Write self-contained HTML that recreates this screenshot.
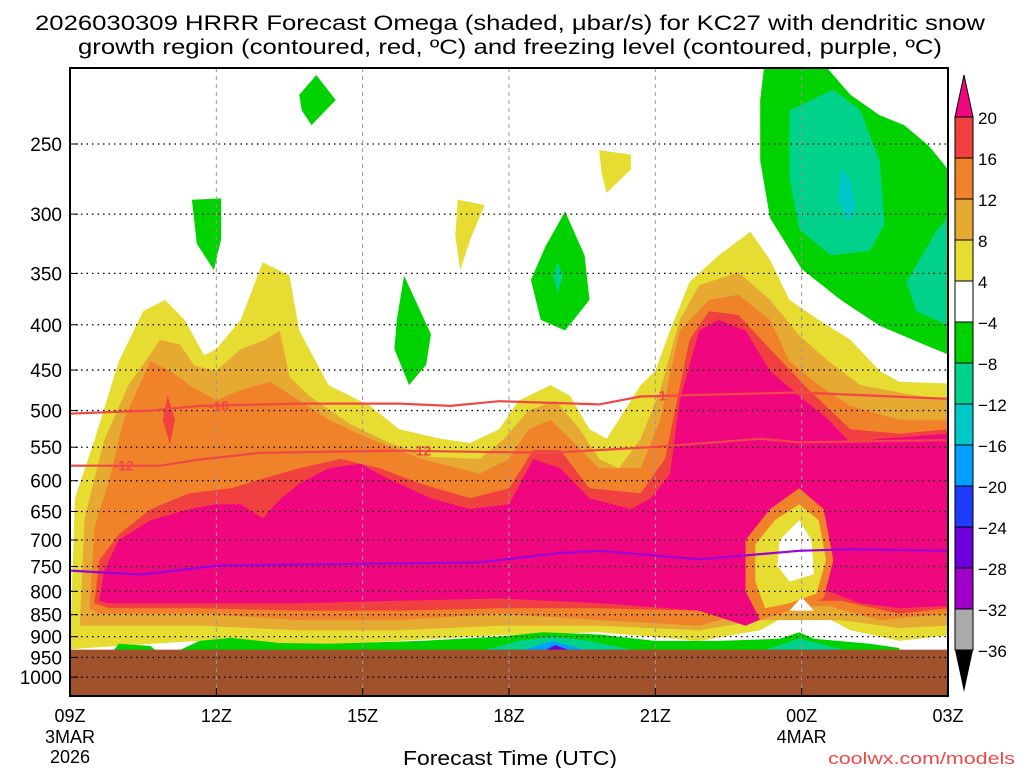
<!DOCTYPE html>
<html><head><meta charset="utf-8"><style>
body{margin:0;background:#fff;}
svg text{font-family:"Liberation Sans",sans-serif;}
</style></head><body>
<svg id="chart" width="1024" height="768" viewBox="0 0 1024 768" xmlns="http://www.w3.org/2000/svg">
<text x="35" y="30" font-size="21" textLength="950" lengthAdjust="spacingAndGlyphs">2026030309 HRRR Forecast Omega (shaded, μbar/s) for KC27 with dendritic snow</text>
<text x="78" y="54" font-size="21" textLength="864" lengthAdjust="spacingAndGlyphs">growth region (contoured, red, ºC) and freezing level (contoured, purple, ºC)</text>
<defs><clipPath id="plotclip"><rect x="70" y="68" width="878" height="628"/></clipPath></defs>
<g id="fills" clip-path="url(#plotclip)"></g>
<g id="lines" clip-path="url(#plotclip)"></g>
<g id="axes"></g>
<g id="cbar"></g>
<text x="403" y="765" font-size="20" textLength="214" lengthAdjust="spacingAndGlyphs">Forecast Time (UTC)</text>
<text x="828" y="764" font-size="17" textLength="187" lengthAdjust="spacingAndGlyphs" fill="#f04848">coolwx.com/models</text>
</svg>
<script>
const xTicks=[0,3,6,9,12,15,18];
const xTickLabels=["09Z","12Z","15Z","18Z","21Z","00Z","03Z"];
const yTicks=[250,300,350,400,450,500,550,600,650,700,750,800,850,900,950,1000];
const cbarLabels=["20","16","12","8","4","−4","−8","−12","−16","−20","−24","−28","−32","−36"];
const cbarColors=["#f04040","#f0822a","#e6aa32","#e6dc32","#ffffff","#00d200","#00d28c","#00c8c8","#00a0ff","#1e3cff","#6e00dc","#a000c8","#aaaaaa"];
const groundP=931;
const level4=[[0,930],[0.1,628],[0.5,540],[1,440],[1.5,386],[1.95,375],[2.35,395],[2.75,433],[3,426],[3.5,395],[3.95,340],[4.5,352],[4.7,406],[5.3,468],[6.15,494],[6.75,525],[7.6,538],[8.2,544],[8.8,525],[9.2,487],[9.85,468],[10.25,481],[10.65,525],[11,538],[11.25,512],[11.7,468],[12,451],[12.3,406],[12.7,358],[13.3,334],[13.95,314],[14.35,338],[14.75,375],[15.35,395],[16,416],[16.6,451],[17,464],[18,466],[18,897],[17,910],[16,885],[15.15,836],[14.75,848],[14.15,885],[12.9,910],[10.85,890],[8.8,897],[6.75,910],[4.7,922],[2.65,910],[1,922]];
const level8=[[0.2,875],[0.3,662],[0.7,540],[1.2,468],[1.85,416],[2.25,421],[2.55,445],[3,451],[3.5,426],[4,416],[4.3,406],[4.5,458],[4.9,481],[5.75,518],[6.55,544],[7.4,564],[8.4,567],[8.9,538],[9.4,500],[9.95,487],[10.45,525],[10.85,567],[11.25,581],[11.7,538],[12.1,474],[12.5,395],[12.9,361],[13.7,349],[14.35,375],[14.95,411],[15.55,440],[16.2,468],[17,477],[18,487],[18,875],[17,880],[15.8,862],[14.15,862],[12.9,885],[10.85,875],[8.8,875],[6.75,885],[4.7,885],[2.65,875],[0.8,875]];
const level12=[[0.4,836],[0.5,678],[0.8,600],[1.1,512],[1.65,440],[2.05,451],[2.45,468],[3,487],[3.5,474],[4.1,464],[4.7,487],[5.3,512],[6.15,538],[7.2,567],[8.4,589],[9,567],[9.4,525],[9.85,512],[10.25,538],[10.85,581],[11.7,581],[12.1,512],[12.5,406],[13.1,375],[13.7,370],[14.35,395],[14.75,440],[15.35,468],[16,494],[17,512],[18,512],[18,848],[16.6,862],[15.55,831],[14.15,836],[12.9,875],[10.85,862],[8.8,848],[6.75,862],[4.7,862],[2.65,848],[0.6,848]];
const level16=[[0.5,825],[0.6,738],[1,690],[1.65,646],[2.45,620],[3.3,612],[3.9,598],[4.7,581],[5.55,567],[6.35,581],[7.2,605],[8.2,628],[9,612],[9.5,554],[10.05,554],[10.65,612],[11.7,620],[12.2,567],[12.7,416],[13.1,386],[13.7,390],[14.35,426],[15.15,474],[16,525],[17,531],[18,525],[18,836],[17,848],[15.8,820],[14.15,820],[12.9,841],[10.85,836],[8.8,836],[6.75,841],[4.7,841],[2.65,836],[0.8,836]];
const level16blob=[[2,481],[2.15,512],[2.05,546],[1.9,512]];
const level20=[[0.6,820],[0.7,758],[1,700],[1.65,665],[2.45,646],[3,638],[3.5,638],[3.95,662],[4.3,630],[4.7,605],[5.3,581],[5.95,574],[6.55,598],[7.4,628],[8.2,646],[9,638],[9.5,567],[10.05,581],[10.65,628],[11.5,646],[11.9,628],[12.3,590],[12.5,487],[12.9,406],[13.3,395],[13.85,406],[14.35,451],[14.95,481],[15.55,512],[16,544],[16.6,538],[18,531],[18,831],[17,836],[16.2,825],[15.55,800],[13.85,875],[12.9,841],[10.85,825],[8.8,815],[6.75,820],[4.7,825],[2.65,825],[0.8,825]];
const holeOrange=[[13.85,700],[14.35,646],[14.95,612],[15.45,646],[15.65,738],[15.45,815],[14.75,841],[14.15,862],[13.85,800]];
const holeYellow=[[14.05,708],[14.45,665],[14.95,638],[15.35,665],[15.5,738],[15.3,805],[14.75,825],[14.25,836],[14.05,780]];
const holeWhite=[[14.55,700],[14.95,665],[15.2,700],[15.25,765],[14.75,780],[14.5,748]];
const bumpWhite=[[14.75,841],[15,812],[15.25,841]];
const blobYellowA=[[10.85,254],[11.5,257],[11.5,267],[11,284],[10.9,270]];
const blobYellowB=[[7.95,289],[8.5,293],[8.2,321],[8,347],[7.9,317]];
const blobGreenC=[[4.7,220],[5.05,209],[5.45,223],[4.95,238],[4.75,229]];
const blobGreenD=[[2.5,289],[3.1,288],[3.1,320],[2.95,347],[2.6,324]];
const blobGreenE=[[6.85,352],[7.4,410],[7.3,444],[6.95,468],[6.65,426],[6.7,395]];
const blobGreenF=[[10.15,298],[10.55,334],[10.65,375],[10.15,406],[9.65,395],[9.45,356],[9.75,326]];
const blobTealF=[[10,340],[10.1,352],[10,368],[9.9,352]];
const upperGreen=[[14.25,200],[15.35,200],[16,220],[16.6,232],[17.1,238],[17.6,251],[18,267],[18,432],[17.5,421],[16.6,401],[15.8,375],[15,346],[14.35,303],[14.15,261],[14.15,223]];
const upperTeal=[[14.75,229],[15.65,217],[16.2,229],[16.6,261],[16.7,308],[16.4,330],[15.6,334],[14.95,312],[14.75,273]];
const upperTealRight=[[18,302],[17.75,314],[17.15,358],[17.35,386],[18,401]];
const upperCyan=[[15.8,267],[16,274],[16.1,296],[15.95,306],[15.75,289]];
const lowGreenSmall=[[0.9,932],[1,917],[1.65,922],[1.75,932]];
const lowGreen=[[2.25,932],[2.65,910],[3.3,903],[4.3,915],[5.3,917],[7.2,910],[8.8,900],[9.7,890],[10.85,895],[12,910],[13.3,910],[14.55,905],[14.95,890],[15.25,905],[16.4,917],[17,927],[17,935],[2.25,935]];
const lowTeal=[[8.4,935],[9.2,910],[9.9,900],[10.65,910],[11.65,935]];
const lowTeal2=[[14.15,935],[14.95,905],[16,935]];
const lowBlue=[[9.2,935],[9.9,910],[10.65,935]];
const lowPurple=[[9.7,935],[9.95,920],[10.3,935]];
const iso18=[[0,504],[1.65,500],[2.65,494],[4.7,491],[6.75,491],[7.8,494],[8.8,488],[10.85,492],[11.7,482],[12.9,480],[14.95,477],[18,485]];
const iso12=[[0,577],[1.85,577],[2.65,568],[3.9,558],[6.75,555],[9.85,558],[11.9,550],[14.15,538],[14.95,543],[18,540]];
const freezing=[[0,758],[1.45,766],[3.05,748],[6.75,744],[8.4,742],[10.05,724],[10.85,720],[12.9,736],[14.95,720],[16,717],[18,720]];

const NS="http://www.w3.org/2000/svg";
const X0=70,X1=948,Y0=68,Y1=696;
function xS(h){return X0+h*(X1-X0)/18;}
function yS(p){return 144+384.6*Math.log(p/250);}
function pathD(pts,close){return pts.map((q,i)=>(i?"L":"M")+xS(q[0]).toFixed(1)+","+yS(q[1]).toFixed(1)).join("")+(close?"Z":"");}
const fills=document.getElementById('fills');
function poly(pts,color,name){const e=document.createElementNS(NS,'path');e.setAttribute('d',pathD(pts,true));e.setAttribute('fill',color);


fills.appendChild(e);}
const layers=[[level4,"#e6dc32","omega-4"],[level8,"#e6aa32","omega-8"],[level12,"#f0822a","omega-12"],[level16,"#f04040","omega-16"],[level16blob,"#f04040","omega-16-blob"],[level20,"#f0077f","omega-20"],[holeOrange,"#f0822a","hole-12"],[holeYellow,"#e6dc32","hole-4"],[holeWhite,"#ffffff","hole-white"],[bumpWhite,"#ffffff","bump-white"],[blobYellowA,"#e6dc32","blob-yellow-a"],[blobYellowB,"#e6dc32","blob-yellow-b"],[blobGreenC,"#00d200","blob-green-c"],[blobGreenD,"#00d200","blob-green-d"],[blobGreenE,"#00d200","blob-green-e"],[blobGreenF,"#00d200","blob-green-f"],[blobTealF,"#00d28c","blob-teal-f"],[upperGreen,"#00d200","upper-green"],[upperTeal,"#00d28c","upper-teal"],[upperTealRight,"#00d28c","upper-teal-right"],[upperCyan,"#00c8c8","upper-cyan"],[lowGreenSmall,"#00d200","low-green-small"],[lowGreen,"#00d200","low-green"],[lowTeal,"#00d28c","low-teal"],[lowTeal2,"#00d28c","low-teal-2"],[lowBlue,"#00a0ff","low-blue"],[lowPurple,"#6e00dc","low-purple"]];
layers.forEach(l=>poly(l[0],l[1],l[2]));
const g=document.createElementNS(NS,'rect');g.setAttribute('x',X0);g.setAttribute('y',yS(groundP));g.setAttribute('width',X1-X0);g.setAttribute('height',Y1-yS(groundP));g.setAttribute('fill','#a0522d');


fills.appendChild(g);
const axes=document.getElementById('axes');
function line(par,x1,y1,x2,y2,st,w,dash,name){const e=document.createElementNS(NS,'line');e.setAttribute('x1',x1);e.setAttribute('y1',y1);e.setAttribute('x2',x2);e.setAttribute('y2',y2);e.setAttribute('stroke',st);e.setAttribute('stroke-width',w);if(dash)e.setAttribute('stroke-dasharray',dash);


par.appendChild(e);return e;}
function text(par,x,y,s,anchor,size,fill,name){const e=document.createElementNS(NS,'text');e.setAttribute('x',x);e.setAttribute('y',y);e.setAttribute('text-anchor',anchor);e.setAttribute('font-size',size);e.setAttribute('fill',fill||'#000');e.textContent=s;


par.appendChild(e);return e;}
yTicks.forEach(p=>{const y=yS(p);line(fills,X0,y,X1,y,'#000',1.3,'1.5,4','y-grid-line');line(axes,X0,y,X0+8,y,'#000',1,null,'y-tick');text(axes,62,y+7,String(p),'end',19,'#000','y-tick-label');});
xTicks.forEach((h,i)=>{const x=xS(h);if(i>0&&i<xTicks.length-1)line(fills,x,Y0,x,Y1,'#999',1,'4,4','x-grid-line');line(axes,x,Y1,x,Y1-8,'#000',1,null,'x-tick');text(axes,x,722,xTickLabels[i],'middle',18,'#000','x-tick-label');});
text(axes,xS(0),743,"3MAR",'middle',18,'#000','date-label-3mar');
text(axes,xS(0),763,"2026",'middle',18,'#000','year-label');
text(axes,xS(15),743,"4MAR",'middle',18,'#000','date-label-4mar');
const fr=document.createElementNS(NS,'rect');fr.setAttribute('x',X0);fr.setAttribute('y',Y0);fr.setAttribute('width',X1-X0);fr.setAttribute('height',Y1-Y0);fr.setAttribute('fill','none');fr.setAttribute('stroke','#000');fr.setAttribute('stroke-width',2);


axes.appendChild(fr);
const lines=document.getElementById('lines');
function pl(pts,color,name){const e=document.createElementNS(NS,'path');e.setAttribute('d',pathD(pts,false));e.setAttribute('fill','none');e.setAttribute('stroke',color);e.setAttribute('stroke-width',2.2);


lines.appendChild(e);}
pl(iso18,'#f04848','isotherm-minus18');
pl(iso12,'#f04848','isotherm-minus12');
pl(freezing,'#9a00d8','freezing-level');
text(lines,xS(3.05),yS(494)+5,"-18",'middle',14,'#f04848','isotherm-label-18').setAttribute('font-weight','bold');
text(lines,xS(1.1),yS(577)+5,"-12",'middle',14,'#f04848','isotherm-label-12').setAttribute('font-weight','bold');
text(lines,xS(7.2),yS(555)+5,"-12",'middle',14,'#f04848','isotherm-label-12b').setAttribute('font-weight','bold');
text(lines,xS(12.1),yS(481)+5,"-1",'middle',14,'#f04848','isotherm-label-18b').setAttribute('font-weight','bold');
const cb=document.getElementById('cbar');
const cx=955,cw=18,ct=117,cbt=650,bh=(cbt-ct)/cbarColors.length;
const tri1=document.createElementNS(NS,'polygon');tri1.setAttribute('points',`${cx},${ct} ${cx+cw},${ct} ${cx+cw/2},${ct-42}`);tri1.setAttribute('fill','#f0077f');tri1.setAttribute('stroke','#000');


cb.appendChild(tri1);
cbarColors.forEach((c,i)=>{const r=document.createElementNS(NS,'rect');r.setAttribute('x',cx);r.setAttribute('y',ct+i*bh);r.setAttribute('width',cw);r.setAttribute('height',bh);r.setAttribute('fill',c);r.setAttribute('stroke','#000');


cb.appendChild(r);});
const tri2=document.createElementNS(NS,'polygon');tri2.setAttribute('points',`${cx},${cbt} ${cx+cw},${cbt} ${cx+cw/2},${cbt+42}`);tri2.setAttribute('fill','#000');


cb.appendChild(tri2);
cbarLabels.forEach((s,i)=>text(cb,978,ct+i*bh+7,s,'start',17,'#000','colorbar-label'));
</script>
</body></html>
